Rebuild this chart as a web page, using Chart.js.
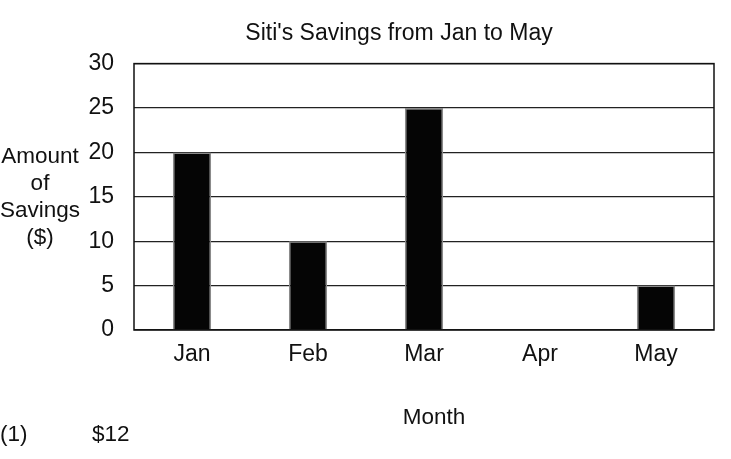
<!DOCTYPE html>
<html>
<head>
<meta charset="utf-8">
<title>Siti's Savings from Jan to May</title>
<script src="https://cdn.jsdelivr.net/npm/chart.js@4.4.1/dist/chart.umd.min.js"></script>
<style>
    html, body { margin: 0; padding: 0; background: #fff; }
    #wrap { position: relative; width: 731px; height: 459px; }
</style>
</head>
<body>
<div id="wrap"><canvas id="savings-chart"></canvas></div>
<script>
const months = ['Jan', 'Feb', 'Mar', 'Apr', 'May'];
const savings = [20, 10, 25, 0, 5];
const yTicks = [0, 5, 10, 15, 20, 25, 30];
const yTitleLines = ['Amount', 'of', 'Savings', '($)'];
const xTitle = 'Month';
const answerLabel = '(1)';
const answerValue = '$12';

const FONT = '"Liberation Sans", Arial, sans-serif';
const PAD_LEFT = 84; // pushes the title box so it centres where the scan has it

// draws the plot frame, the horizontal y title and the stray worksheet text
const extraText = {
    id: 'extraText',
    afterDatasetsDraw(chart) {
        const ctx = chart.ctx;
        const area = chart.chartArea;
        ctx.save();
        ctx.strokeStyle = '#111';
        ctx.lineWidth = 1.5;
        ctx.strokeRect(area.left, area.top, area.right - area.left, area.bottom - area.top);

        ctx.fillStyle = '#111';
        ctx.font = '22.5px ' + FONT;
        ctx.textAlign = 'center';
        ctx.textBaseline = 'middle';
        const midY = (area.top + area.bottom) / 2;
        yTitleLines.forEach((line, i) => {
            ctx.fillText(line, 40, midY - 40 + i * 27);
        });

        ctx.fillText(xTitle, (area.left + area.right) / 2 + 10, 418);

        ctx.textAlign = 'left';
        ctx.fillText(answerLabel, 0, 435);
        ctx.fillText(answerValue, 92, 435);
        ctx.restore();
    }
};

const ctx = document.getElementById('savings-chart').getContext('2d');
new Chart(ctx, {
    type: 'bar',
    data: {
        labels: months,
        datasets: [{
            label: 'Savings',
            data: savings,
            backgroundColor: '#050505',
            borderColor: '#8a8a8a',
            borderWidth: 1.5,
            categoryPercentage: 1,
            barPercentage: 0.33,
        }],
    },
    options: {
        responsive: true,
        maintainAspectRatio: false,
        animation: false,
        layout: { padding: { left: PAD_LEFT, right: 17, top: 0, bottom: 0 } },
        plugins: {
            legend: { display: false },
            tooltip: { enabled: false },
            title: {
                display: true,
                text: "Siti's Savings from Jan to May",
                color: '#111',
                font: { family: FONT, size: 23, weight: 'normal' },
                padding: { top: 20, bottom: 16 },
            },
        },
        scales: {
            x: {
                grid: { display: false, drawTicks: false },
                border: { display: false },
                ticks: {
                    color: '#111',
                    font: { family: FONT, size: 23 },
                    padding: 11,
                },
                afterFit(scale) { scale.height = 129; },
            },
            y: {
                min: 0,
                max: 30,
                afterBuildTicks(scale) {
                    scale.ticks = yTicks.map(v => ({ value: v }));
                },
                grid: { color: '#222', lineWidth: 1.2, drawTicks: false },
                border: { display: false },
                ticks: {
                    color: '#111',
                    font: { family: FONT, size: 23 },
                    padding: 20,
                },
                afterFit(scale) { scale.width = 134 - PAD_LEFT; },
            },
        },
    },
    plugins: [extraText],
});
</script>
</body>
</html>
